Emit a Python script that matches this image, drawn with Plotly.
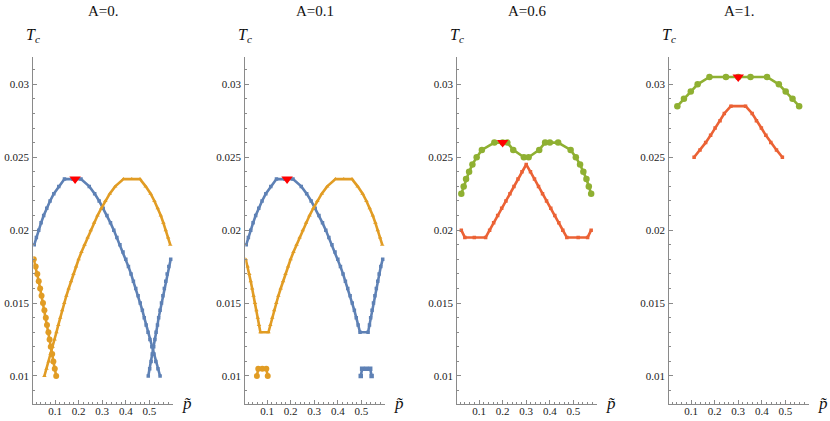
import plotly.graph_objects as go

BLUE = "#5E81B5"
ORANGE = "#E19C24"
GREEN = "#8FB032"
RED = "#EB6235"

panel_titles = ["A=0.", "A=0.1", "A=0.6", "A=1."]
ytick_vals = [0.01, 0.015, 0.02, 0.025, 0.03]
ytick_text = ["0.01", "0.015", "0.02", "0.025", "0.03"]
xtick_vals = [0.1, 0.2, 0.3, 0.4, 0.5]
xtick_text = ["0.1", "0.2", "0.3", "0.4", "0.5"]

# ---------------- Panel A=0. ----------------
a0_blue1_p = [0.012, 0.021, 0.031, 0.041, 0.052, 0.065, 0.079, 0.095, 0.116, 0.14, 0.175, 0.21,
              0.245, 0.268, 0.287, 0.304, 0.32, 0.335, 0.349, 0.362, 0.375, 0.388, 0.4, 0.411,
              0.422, 0.432, 0.442, 0.452, 0.461, 0.47, 0.478, 0.486, 0.494, 0.502, 0.51, 0.519,
              0.527, 0.536, 0.545]
a0_blue1_T = [0.019, 0.0195, 0.02, 0.0205, 0.021, 0.0215, 0.022, 0.0225, 0.023, 0.0235, 0.0235, 0.0235,
              0.023, 0.0225, 0.022, 0.0215, 0.021, 0.0205, 0.02, 0.0195, 0.019, 0.0185, 0.018, 0.0175,
              0.017, 0.0165, 0.016, 0.0155, 0.015, 0.0145, 0.014, 0.0135, 0.013, 0.0125, 0.012, 0.0115,
              0.011, 0.0105, 0.01]
a0_blue2_p = [0.495, 0.501, 0.507, 0.512, 0.518, 0.523, 0.528, 0.534, 0.539, 0.545, 0.551, 0.557,
              0.563, 0.569, 0.575, 0.582, 0.59]
a0_blue2_T = [0.01, 0.0105, 0.011, 0.0115, 0.012, 0.0125, 0.013, 0.0135, 0.014, 0.0145, 0.015, 0.0155,
              0.016, 0.0165, 0.017, 0.0175, 0.018]
a0_orange1_p = [0.01, 0.018, 0.025, 0.031, 0.037, 0.043, 0.049, 0.055, 0.061, 0.066, 0.072, 0.077,
                0.082, 0.088, 0.093, 0.099, 0.105]
a0_orange1_T = [0.018, 0.0175, 0.017, 0.0165, 0.016, 0.0155, 0.015, 0.0145, 0.014, 0.0135, 0.013, 0.0125,
                0.012, 0.0115, 0.011, 0.0105, 0.01]
a0_orange2_p = [0.055, 0.064, 0.073, 0.081, 0.09, 0.098, 0.106, 0.114, 0.122, 0.13, 0.139, 0.148, 0.158,
                0.168, 0.178, 0.189, 0.2, 0.212, 0.225, 0.238, 0.251, 0.265, 0.28, 0.296, 0.313, 0.332,
                0.355, 0.39, 0.425, 0.46, 0.484, 0.505, 0.521, 0.535, 0.548, 0.559, 0.569, 0.579, 0.588]
a0_orange2_T = [0.01, 0.0105, 0.011, 0.0115, 0.012, 0.0125, 0.013, 0.0135, 0.014, 0.0145, 0.015, 0.0155,
                0.016, 0.0165, 0.017, 0.0175, 0.018, 0.0185, 0.019, 0.0195, 0.02, 0.0205, 0.021, 0.0215,
                0.022, 0.0225, 0.023, 0.0235, 0.0235, 0.0235, 0.023, 0.0225, 0.022, 0.0215, 0.021, 0.0205,
                0.02, 0.0195, 0.019]

# ---------------- Panel A=0.1 ----------------
a1_blue_p = [0.012, 0.021, 0.031, 0.041, 0.052, 0.065, 0.079, 0.095, 0.116, 0.14, 0.175, 0.21,
             0.245, 0.268, 0.287, 0.304, 0.32, 0.335, 0.349, 0.362, 0.375, 0.388, 0.4, 0.411,
             0.422, 0.432, 0.442, 0.452, 0.461, 0.47, 0.478, 0.486, 0.494, 0.528, 0.534, 0.539,
             0.545, 0.551, 0.557, 0.563, 0.569, 0.575, 0.582, 0.59]
a1_blue_T = [0.019, 0.0195, 0.02, 0.0205, 0.021, 0.0215, 0.022, 0.0225, 0.023, 0.0235, 0.0235, 0.0235,
             0.023, 0.0225, 0.022, 0.0215, 0.021, 0.0205, 0.02, 0.0195, 0.019, 0.0185, 0.018, 0.0175,
             0.017, 0.0165, 0.016, 0.0155, 0.015, 0.0145, 0.014, 0.0135, 0.013, 0.013, 0.0135, 0.014,
             0.0145, 0.015, 0.0155, 0.016, 0.0165, 0.017, 0.0175, 0.018]
a1_orange_p = [0.01, 0.018, 0.025, 0.031, 0.037, 0.043, 0.049, 0.055, 0.061, 0.066, 0.072, 0.106,
               0.114, 0.122, 0.13, 0.139, 0.148, 0.158, 0.168, 0.178, 0.189, 0.2, 0.212, 0.225, 0.238,
               0.251, 0.265, 0.28, 0.296, 0.313, 0.332, 0.355, 0.39, 0.425, 0.46, 0.484, 0.505, 0.521,
               0.535, 0.548, 0.559, 0.569, 0.579, 0.588]
a1_orange_T = [0.018, 0.0175, 0.017, 0.0165, 0.016, 0.0155, 0.015, 0.0145, 0.014, 0.0135, 0.013, 0.013,
               0.0135, 0.014, 0.0145, 0.015, 0.0155, 0.016, 0.0165, 0.017, 0.0175, 0.018, 0.0185, 0.019,
               0.0195, 0.02, 0.0205, 0.021, 0.0215, 0.022, 0.0225, 0.023, 0.0235, 0.0235, 0.0235, 0.023,
               0.0225, 0.022, 0.0215, 0.021, 0.0205, 0.02, 0.0195, 0.019]
a1_orange_bump_p = [0.057, 0.063, 0.08, 0.097, 0.103]
a1_orange_bump_T = [0.01, 0.0105, 0.0105, 0.0105, 0.01]
a1_blue_bump_p = [0.497, 0.503, 0.52, 0.537, 0.543]
a1_blue_bump_T = [0.01, 0.0105, 0.0105, 0.0105, 0.01]

# ---------------- Panel A=0.6 ----------------
a6_green_p = [0.025, 0.035, 0.045, 0.058, 0.072, 0.09, 0.112, 0.165, 0.2, 0.22, 0.245, 0.29,
              0.31, 0.355, 0.38, 0.4, 0.435, 0.488, 0.51, 0.528, 0.542, 0.555, 0.565, 0.575]
a6_green_T = [0.0225, 0.023, 0.0235, 0.024, 0.0245, 0.025, 0.0255, 0.026, 0.026, 0.026, 0.0255, 0.025,
              0.025, 0.0255, 0.026, 0.026, 0.026, 0.0255, 0.025, 0.0245, 0.024, 0.0235, 0.023, 0.0225]
a6_red_p = [0.025, 0.04, 0.08, 0.128, 0.145, 0.162, 0.179, 0.196, 0.214, 0.231, 0.248, 0.265, 0.282,
            0.3, 0.318, 0.335, 0.352, 0.369, 0.386, 0.404, 0.421, 0.438, 0.455, 0.472, 0.52, 0.56, 0.575]
a6_red_T = [0.02, 0.0195, 0.0195, 0.0195, 0.02, 0.0205, 0.021, 0.0215, 0.022, 0.0225, 0.023, 0.0235, 0.024,
            0.0245, 0.024, 0.0235, 0.023, 0.0225, 0.022, 0.0215, 0.021, 0.0205, 0.02, 0.0195, 0.0195,
            0.0195, 0.02]

# ---------------- Panel A=1. ----------------
a10_green_p = [0.042, 0.07, 0.099, 0.128, 0.178, 0.248, 0.3, 0.352, 0.422, 0.472, 0.501, 0.53, 0.558]
a10_green_T = [0.0285, 0.029, 0.0295, 0.03, 0.0305, 0.0305, 0.0305, 0.0305, 0.0305, 0.03, 0.0295, 0.029,
               0.0285]
a10_red_p = [0.113, 0.138, 0.162, 0.183, 0.202, 0.223, 0.241, 0.269, 0.331, 0.359, 0.377, 0.398, 0.417,
             0.438, 0.462, 0.487]
a10_red_T = [0.025, 0.0255, 0.026, 0.0265, 0.027, 0.0275, 0.028, 0.0285, 0.0285, 0.028, 0.0275, 0.027,
             0.0265, 0.026, 0.0255, 0.025]

# maxima (red triangles)
max_p = [0.185, 0.185, 0.2, 0.3]
max_T = [0.0235, 0.0235, 0.026, 0.0305]

W, H = 830, 421
AX_LEFT = [33.3, 245.3, 457.3, 669.3]
AX_W = 140.0
Y_TOP, Y_BOT = 57.0, 404.0
X_RANGE = [0.008, 0.601]
Y_RANGE = [0.00808, 0.03187]

SERIF = "Liberation Serif"

fig = go.Figure()


def add_line(k, p, T, color, symbol, msize, lw=2.6):
    fig.add_trace(go.Scatter(
        x=p, y=T, mode="lines+markers",
        line=dict(color=color, width=lw),
        marker=dict(color=color, symbol=symbol, size=msize, line=dict(width=0)),
        xaxis="x" if k == 0 else f"x{k+1}", yaxis="y" if k == 0 else f"y{k+1}",
        showlegend=False, hoverinfo="skip"))


add_line(0, a0_blue1_p, a0_blue1_T, BLUE, "square", 3.5)
add_line(0, a0_blue2_p, a0_blue2_T, BLUE, "square", 3.5)
add_line(0, a0_orange2_p, a0_orange2_T, ORANGE, "triangle-up", 4)
add_line(0, a0_orange1_p, a0_orange1_T, ORANGE, "circle", 6)

add_line(1, a1_blue_p, a1_blue_T, BLUE, "square", 3.5)
add_line(1, a1_orange_p, a1_orange_T, ORANGE, "triangle-up", 4)
add_line(1, a1_orange_bump_p, a1_orange_bump_T, ORANGE, "circle", 6)
add_line(1, a1_blue_bump_p, a1_blue_bump_T, BLUE, "square", 4.5)

add_line(2, a6_red_p, a6_red_T, RED, "square", 3.5)
add_line(2, a6_green_p, a6_green_T, GREEN, "circle", 6.5)

add_line(3, a10_red_p, a10_red_T, RED, "square", 3.5)
add_line(3, a10_green_p, a10_green_T, GREEN, "circle", 6.5)

for k in range(4):
    fig.add_trace(go.Scatter(
        x=[max_p[k]], y=[max_T[k]], mode="markers",
        marker=dict(color="#FF0000", symbol="triangle-down", size=10, line=dict(width=0)),
        xaxis="x" if k == 0 else f"x{k+1}", yaxis="y" if k == 0 else f"y{k+1}",
        showlegend=False, hoverinfo="skip"))

TICKFONT = dict(family=SERIF, size=11, color="#222")
AXCOL = "#8a8a8a"
layout = dict(width=W, height=H, margin=dict(l=0, r=0, t=0, b=0),
              paper_bgcolor="white", plot_bgcolor="white", showlegend=False)
annotations = []
for k in range(4):
    sx = "" if k == 0 else str(k + 1)
    d0 = AX_LEFT[k] / W
    d1 = (AX_LEFT[k] + AX_W) / W
    layout["xaxis" + sx] = dict(
        domain=[d0, d1], range=X_RANGE, anchor="y" + sx,
        showline=True, linecolor=AXCOL, linewidth=1.2, showgrid=False, zeroline=False,
        tickmode="array", tickvals=xtick_vals, ticktext=xtick_text,
        ticks="inside", ticklen=4, tickcolor=AXCOL, tickwidth=1, tickfont=TICKFONT,
        ticklabelstandoff=-3,
        minor=dict(dtick=0.02, tick0=0, ticks="inside", ticklen=2, tickcolor=AXCOL),
    )
    layout["yaxis" + sx] = dict(
        domain=[1 - Y_BOT / H, 1 - Y_TOP / H], range=Y_RANGE, anchor="x" + sx,
        showline=True, linecolor=AXCOL, linewidth=1.2, showgrid=False, zeroline=False,
        tickmode="array", tickvals=ytick_vals, ticktext=ytick_text,
        ticks="inside", ticklen=4, tickcolor=AXCOL, tickwidth=1, tickfont=TICKFONT,
        ticklabelstandoff=1,
        minor=dict(dtick=0.001, tick0=0, ticks="inside", ticklen=2, tickcolor=AXCOL),
    )
    annotations.append(dict(text=panel_titles[k], xref="paper", yref="paper",
                            x=(AX_LEFT[k] + AX_W / 2) / W, y=1 - 11 / H,
                            xanchor="center", yanchor="middle", showarrow=False,
                            font=dict(family=SERIF, size=15, color="#111")))
    annotations.append(dict(text="<i>T</i><sub><i>c</i></sub>", xref="paper", yref="paper",
                            x=AX_LEFT[k] / W, y=1 - 36 / H,
                            xanchor="center", yanchor="middle", showarrow=False,
                            font=dict(family=SERIF, size=16, color="#111")))
    annotations.append(dict(text="<i>p\u0303</i>", xref="paper", yref="paper",
                            x=(AX_LEFT[k] + AX_W + 14) / W, y=1 - 403 / H,
                            xanchor="center", yanchor="middle", showarrow=False,
                            font=dict(family=SERIF, size=17, color="#111")))
layout["annotations"] = annotations
fig.update_layout(**layout)
# remove the browser's default 8px page margin so the figure fills the window exactly
fig.write_html("out.html",
               config={"displayModeBar": False, "staticPlot": True},
               post_script="document.body.style.margin='0px';"
                           "document.documentElement.style.overflow='hidden';")
